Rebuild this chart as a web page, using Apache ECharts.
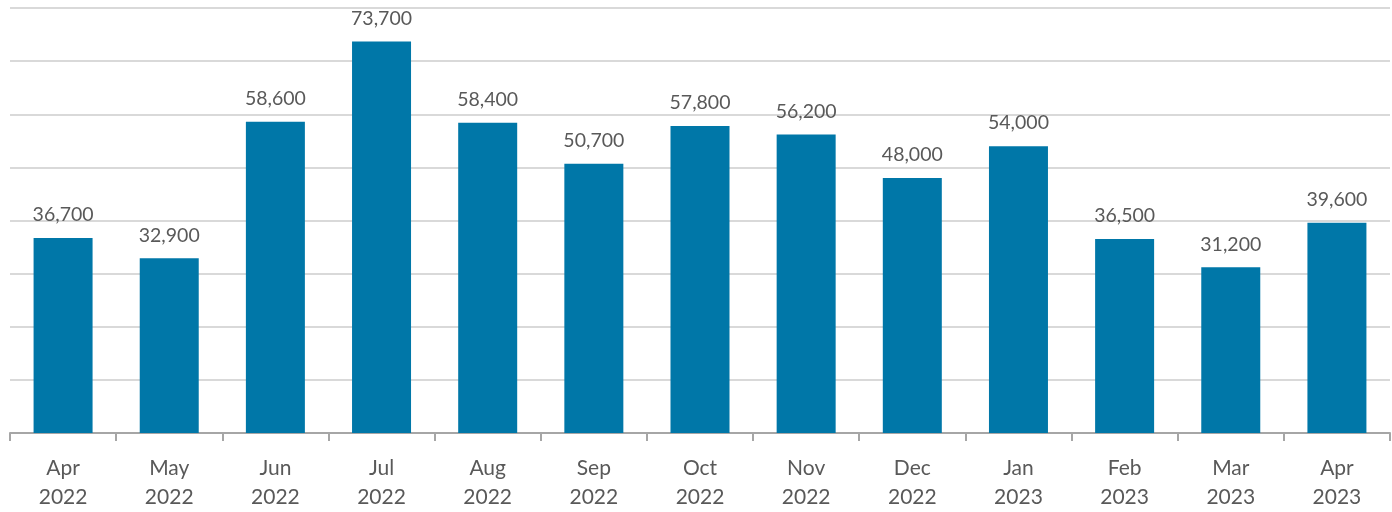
<!DOCTYPE html>
<html><head><meta charset="utf-8">
<script src="https://cdn.jsdelivr.net/npm/echarts@6/dist/echarts.min.js"></script>
<style>html,body{margin:0;padding:0;background:#fff}#c{width:1392px;height:512px}</style>
</head><body><div id="c"></div>
<script>
const categories = ['Apr\n2022','May\n2022','Jun\n2022','Jul\n2022','Aug\n2022','Sep\n2022','Oct\n2022','Nov\n2022','Dec\n2022','Jan\n2023','Feb\n2023','Mar\n2023','Apr\n2023'];
const values = [36700,32900,58600,73700,58400,50700,57800,56200,48000,54000,36500,31200,39600];
const chart = echarts.init(document.getElementById('c'), null, {renderer:'canvas'});
chart.setOption({
  animation:false,
  grid:{left:10,right:2,top:8,bottom:73,containLabel:false},
  xAxis:{type:'category',data:categories,
    axisLine:{lineStyle:{color:'#a6a6a6',width:2}},
    axisTick:{show:true,length:8,lineStyle:{color:'#a6a6a6',width:2}},
    axisLabel:{color:'#595959',fontFamily:'Lato',fontSize:21,lineHeight:29,margin:21,interval:0}},
  yAxis:{type:'value',min:0,max:80000,interval:10000,
    axisLabel:{show:false},axisLine:{show:false},axisTick:{show:false},
    splitLine:{lineStyle:{color:'#d9d9d9',width:2}}},
  series:[{type:'bar',data:values,barWidth:59,itemStyle:{color:'#0077a8'},
    label:{show:true,position:'top',distance:13,color:'#595959',fontFamily:'Lato',fontSize:19.5,
      formatter:p=>p.value.toLocaleString('en-US')}}]
});
</script></body></html>
